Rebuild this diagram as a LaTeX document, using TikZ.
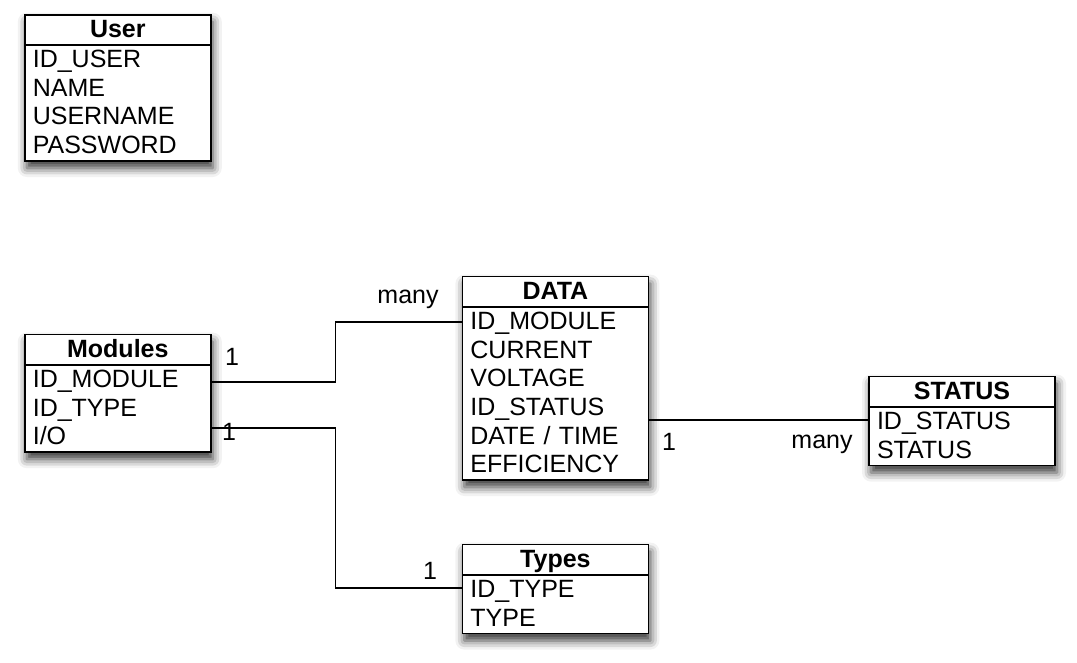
\documentclass[tikz,border=0pt]{standalone}
\usepackage{fontspec}
\setmainfont{Liberation Sans}
\usetikzlibrary{positioning, shapes.multipart, shadows.blur}

\newcommand\rowstrut{\rule[-6.6pt]{0pt}{28.6pt}}

\begin{document}
\begin{tikzpicture}[
    x=1pt, y=-1pt,
    table/.style={
        rectangle split, rectangle split parts=2,
        draw=black, line width=1.6pt,
        fill=white,
        text width=170pt,
        align=left,
        inner xsep=8pt, inner ysep=0pt,
        font=\fontsize{25}{28.6}\selectfont,
        blur shadow={shadow xshift=2pt, shadow yshift=-7pt,
                     shadow blur radius=9pt, shadow opacity=80}
    },
    rel/.style={line width=1.6pt},
    card/.style={font=\fontsize{25}{28.6}\selectfont, inner sep=0pt}
]
\useasboundingbox (0,0) rectangle (1077,663);

\node[table, anchor=north west] (user) at (24,14)
    {\hfill\textbf{User}\hfill\rowstrut
     \nodepart{second}\rowstrut ID\_USER\\ NAME\\ USERNAME\\ PASSWORD\rowstrut};

\node[table, below=172pt of user] (modules)
    {\hfill\textbf{Modules}\hfill\rowstrut
     \nodepart{second}\rowstrut ID\_MODULE\\ ID\_TYPE\\ I/O\rowstrut};

\node[table, right=250pt of modules.north east, anchor=north west, yshift=58pt] (data)
    {\hfill\textbf{DATA}\hfill\rowstrut
     \nodepart{second}\rowstrut ID\_MODULE\\ CURRENT\\ VOLTAGE\\ ID\_STATUS\\ DATE / TIME\\ EFFICIENCY\rowstrut};

\node[table, right=219pt of data.north east, anchor=north west, yshift=-100pt] (status)
    {\hfill\textbf{STATUS}\hfill\rowstrut
     \nodepart{second}\rowstrut ID\_STATUS\\ STATUS\rowstrut};

\node[table, below=63pt of data] (types)
    {\hfill\textbf{Types}\hfill\rowstrut
     \nodepart{second}\rowstrut ID\_TYPE\\ TYPE\rowstrut};

% Relations
\draw[rel] ([yshift=-48pt]modules.north east) -- ++(124pt,0) |- ([yshift=-46pt]data.north west);
\draw[rel] ([yshift=-94pt]modules.north east) -- ++(124pt,0) |- ([yshift=-44pt]types.north west);
\draw[rel] ([yshift=-144pt]data.north east) -- ([yshift=-44pt]status.north west);

% Cardinalities
\node[card] (c1) at (232,357) {1};
\node[card] (c2) at (408,299) {many};
\node[card] (c3) at (229,432) {1};
\node[card] (c4) at (430,571) {1};
\node[card] (c5) at (669,442) {1};
\node[card] (c6) at (822,444) {many};

\end{tikzpicture}
\end{document}
